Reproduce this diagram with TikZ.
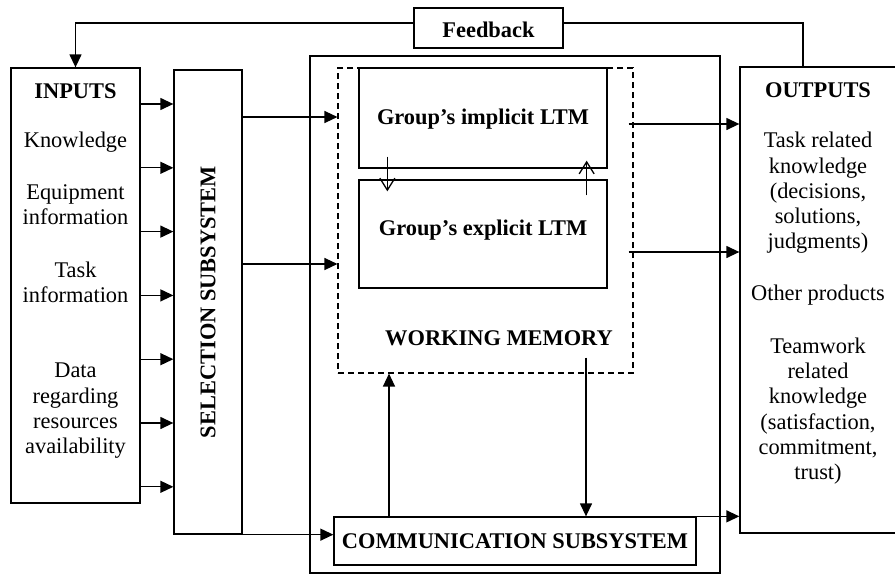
\documentclass[tikz,border=0pt]{standalone}
\usepackage{fontspec}
\setmainfont{Liberation Serif}
\usetikzlibrary{positioning, arrows.meta}
\tikzset{
x=1pt, y=-1pt, % one unit is one pixel of the sketch
>={Triangle[length=13pt,width=12pt]}, % makes the arrow heads filled
box/.style={draw, line width=1.3pt, inner sep=0pt, fill=white}, % every framed block
lbl/.style={font=\fontsize{22.4}{25.3}\selectfont, align=center}, % plain text lines
blbl/.style={font=\fontsize{22.4}{25.3}\selectfont\bfseries, align=center}, % bold titles
link/.style={->, line width=1.3pt}, % ordinary connector
barb/.style={-{Straight Barb[length=12pt,width=15pt]}, line width=1.3pt}, % open head
wm/.style={draw, line width=1.1pt, dash pattern=on 6pt off 4pt}, % working memory frame
}
\begin{document}
\begin{tikzpicture}
    \useasboundingbox (0,0) rectangle (895,576);

    % blocks
    \node[box, minimum width=410pt, minimum height=517pt] (outer) at (515,314.5) {};
    \node[wm, minimum width=295pt, minimum height=305pt] (wmem) at (485.5,220.5) {};
    \node[box, minimum width=248pt, minimum height=100pt] (implicit) at (483,118) {};
    \node[box, minimum width=248pt, minimum height=108pt] (explicit) at (483,234) {};
    \node[box, minimum width=362pt, minimum height=48pt] (comm) at (515,541) {};
    \node[box, minimum width=129pt, minimum height=435pt] (inputs) at (75.5,285.5) {};
    \node[box, minimum width=68pt, minimum height=464pt] (sel) at (208,302) {};
    \node[box, minimum width=160pt, minimum height=466pt] (outputs) at (820,300) {};
    \node[box, minimum width=149pt, minimum height=40pt] (fb) at (488.5,28) {};

    % texts
    \node[blbl] (fbtext) at (488.5,30) {Feedback};
    \node[blbl] (imptext) at (483,119) {Group’s implicit LTM};
    \node[blbl] (exptext) at (483,230) {Group’s explicit LTM};
    \node[blbl] (wmtext) at (499,338) {WORKING MEMORY};
    \node[blbl] (commtext) at (515,541) {COMMUNICATION SUBSYSTEM};
    \node[blbl, rotate=90] (seltext) at (sel.center) {SELECTION SUBSYSTEM};

    \node[blbl] (intitle) at (75.5,91) {INPUTS};
    \node[lbl] (in1) at (75.5,142) {Knowledge};
    \node[lbl] (in2) at (75.5,205) {Equipment\\information};
    \node[lbl] (in3) at (75.5,282) {Task\\information};
    \node[lbl] (in4) at (75.5,411) {Data\\regarding\\resources\\availability};

    \node[blbl] (outtitle) at (818,90) {OUTPUTS};
    \node[lbl] (out1) at (818,193) {Task related\\knowledge\\(decisions,\\solutions,\\judgments)};
    \node[lbl] (out2) at (818,295) {Other products};
    \node[lbl] (out3) at (818,411) {Teamwork\\related\\knowledge\\(satisfaction,\\commitment,\\trust)};

    % connectors
    \foreach \i in {0,...,6}
        \draw[link] (inputs.east |- 0,104+\i*63.8) -- (sel.west |- 0,104+\i*63.8);
    \draw[link] (sel.east |- 0,117) -- (wmem.west |- 0,117);
    \draw[link] (sel.east |- 0,264) -- (wmem.west |- 0,264);
    \draw[link] (sel.south east) -- (comm.west |- sel.south east);
    \draw[link] ([xshift=-5pt]wmem.east |- 0,124) -- (outputs.west |- 0,124);
    \draw[link] ([xshift=-5pt]wmem.east |- 0,252) -- (outputs.west |- 0,252);
    \draw[barb] ([shift={(29pt,12pt)}]implicit.south west) -- ([shift={(29pt,-12pt)}]explicit.north west);
    \draw[barb] ([shift={(-21pt,-16pt)}]explicit.north east) -- ([shift={(-21pt,8pt)}]implicit.south east);
    \draw[link] (comm.north -| 389,0) -- (wmem.south -| 389,0);
    \draw[link] ([yshift=16pt]wmem.south -| 586,0) -- (comm.north -| 586,0);
    \draw[link] ([xshift=-16pt]comm.north east) -- (outputs.west |- comm.north);
    \draw[line width=1.3pt] (outputs.north -| 803,0) |- ([yshift=5pt]fb.east);
    \draw[link] ([yshift=5pt]fb.west) -| (inputs.north);
\end{tikzpicture}
\end{document}
